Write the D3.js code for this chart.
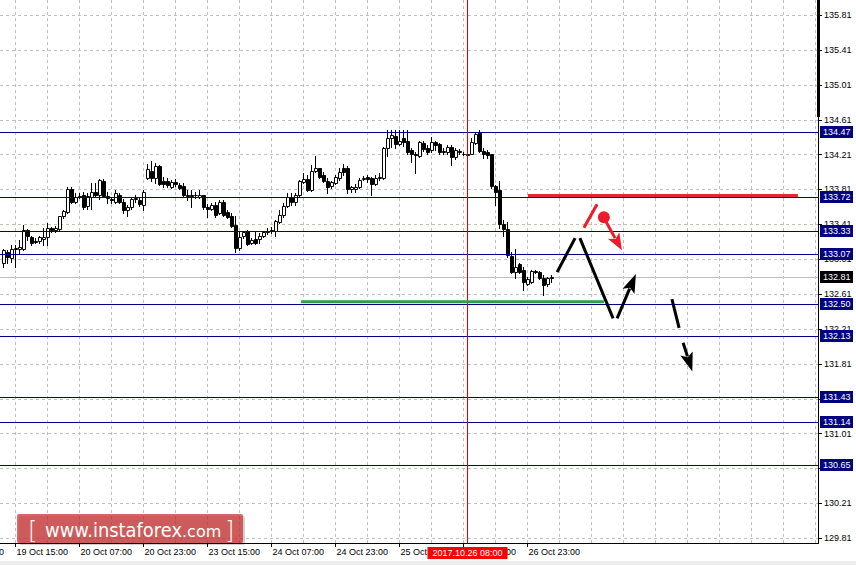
<!DOCTYPE html>
<html lang="en">
<head>
<meta charset="UTF-8">
<title>USD/JPY H1</title>
<script src="https://d3js.org/d3.v7.min.js"></script>
<style>
  body { margin: 0; background: #fff; overflow: hidden; }
  svg { display: block; font-family: "Liberation Sans", Arial, sans-serif; }
</style>
</head>
<body>
<script>
// H1 candles, first visible bar = 19 Oct 12:00 (bar 1), 4px per bar
const firstBar = 1;
const opens = [
  132.97,133.09,133.02,133.12,133.12,133.13,133.34,133.26,133.22,133.22,133.24,133.26,133.37,133.34,133.35,133.50,133.55,133.81,133.66,133.72,
  133.75,133.62,133.72,133.78,133.75,133.90,133.73,133.70,133.67,133.75,133.67,133.57,133.61,133.70,133.69,133.63,133.94,134.02,133.94,134.08,
  133.90,133.90,133.84,133.89,133.86,133.85,133.75,133.75,133.74,133.72,133.74,133.61,133.59,133.63,133.54,133.66,133.55,133.50,133.40,133.14,
  133.27,133.33,133.19,133.24,133.24,133.27,133.32,133.33,133.33,133.43,133.51,133.62,133.72,133.66,133.74,133.89,133.93,133.80,134.02,134.05,
  133.98,133.90,133.85,133.88,133.94,134.06,134.05,133.81,133.81,133.84,133.93,133.95,133.94,133.87,133.94,133.94,134.28,134.40,134.42,134.33,
  134.40,134.37,134.26,134.21,134.19,134.34,134.28,134.26,134.35,134.33,134.24,134.24,134.29,134.18,134.25,134.22,134.21,134.22,134.34,134.47,
  134.25,134.24,134.21,133.85,133.80,133.41,133.35,133.04,132.86,132.95,132.89,132.72,132.75,132.87,132.86,132.79,132.72,132.79
];
const highs = [
  133.12,133.11,133.17,133.17,133.23,133.40,133.35,133.28,133.25,133.28,133.37,133.42,133.38,133.39,133.50,133.57,133.84,133.84,133.77,133.77,
  133.78,133.77,133.88,133.88,133.93,133.93,133.78,133.71,133.80,133.77,133.70,133.63,133.71,133.74,133.72,133.80,134.10,134.13,134.11,134.09,
  133.95,133.94,133.92,133.93,133.88,133.88,133.80,133.80,133.78,133.80,133.75,133.64,133.65,133.66,133.69,133.69,133.57,133.54,133.50,133.32,
  133.33,133.34,133.25,133.33,133.31,133.33,133.37,133.38,133.46,133.57,133.65,133.77,133.77,133.77,133.92,134.00,133.97,134.09,134.19,134.06,
  134.01,133.94,133.90,133.97,134.05,134.10,134.08,133.85,133.87,133.94,133.96,133.97,133.95,133.97,134.00,134.29,134.49,134.49,134.49,134.49,
  134.49,134.49,134.28,134.24,134.37,134.37,134.32,134.41,134.37,134.34,134.28,134.32,134.32,134.28,134.27,134.24,134.22,134.40,134.47,134.49,
  134.28,134.26,134.22,133.86,133.90,133.46,133.43,133.09,133.12,132.96,132.92,132.80,132.89,132.88,132.87,132.83,132.80,132.83
];
const lows = [
  132.92,132.96,132.98,132.92,133.08,133.11,133.23,133.17,133.19,133.19,133.17,133.17,133.32,133.32,133.34,133.48,133.54,133.65,133.65,133.71,
  133.59,133.59,133.59,133.72,133.70,133.72,133.65,133.65,133.65,133.65,133.54,133.50,133.59,133.66,133.62,133.57,133.93,133.90,133.88,133.86,
  133.84,133.84,133.82,133.85,133.81,133.73,133.69,133.61,133.71,133.71,133.59,133.49,133.57,133.49,133.53,133.50,133.48,133.38,133.09,133.11,
  133.25,133.17,133.18,133.18,133.20,133.26,133.30,133.31,133.28,133.42,133.49,133.61,133.63,133.63,133.73,133.88,133.79,133.79,134.01,133.94,
  133.89,133.77,133.82,133.87,133.92,133.98,133.77,133.78,133.78,133.82,133.92,133.89,133.74,133.86,133.92,133.93,134.19,134.29,134.28,134.32,
  134.31,134.22,134.12,134.00,134.18,134.25,134.22,134.24,134.26,134.21,134.22,134.21,134.09,134.16,134.21,134.20,134.20,134.21,134.33,134.24,
  134.17,134.17,133.82,133.63,133.37,133.28,133.03,132.85,132.79,132.85,132.65,132.71,132.74,132.85,132.78,132.60,132.70,132.75
];
const closes = [
  133.11,133.03,133.12,133.14,133.15,133.34,133.27,133.20,133.21,133.26,133.26,133.37,133.34,133.37,133.50,133.56,133.81,133.66,133.72,133.73,
  133.61,133.73,133.78,133.74,133.92,133.73,133.71,133.69,133.77,133.66,133.57,133.61,133.70,133.71,133.64,133.78,134.04,133.94,134.08,133.87,
  133.87,133.86,133.89,133.87,133.82,133.74,133.73,133.73,133.74,133.75,133.61,133.59,133.63,133.51,133.67,133.51,133.49,133.39,133.14,133.26,
  133.32,133.18,133.23,133.20,133.27,133.32,133.33,133.34,133.45,133.51,133.62,133.72,133.66,133.75,133.90,133.93,133.80,134.02,134.05,133.95,
  133.90,133.84,133.89,133.95,134.01,134.01,133.81,133.84,133.84,133.92,133.94,133.93,133.87,133.94,133.95,134.28,134.40,134.43,134.33,134.37,
  134.35,134.24,134.22,134.20,134.35,134.27,134.24,134.35,134.32,134.24,134.25,134.29,134.18,134.26,134.24,134.21,134.20,134.35,134.45,134.25,
  134.21,134.20,133.85,133.78,133.41,133.35,133.06,132.86,132.92,132.86,132.75,132.78,132.87,132.86,132.79,132.71,132.79,132.81
];

const priceTicks = [135.81,135.41,135.01,134.61,134.21,133.81,133.41,133.01,132.61,132.21,131.81,131.41,131.01,130.61,130.21,129.81];
const levels = [134.47,133.72,133.33,133.07,132.50,132.13,131.43,131.14,130.65];
const timeTickBars = [-12,4,20,36,52,68,84,100,116,132];
const timeTickLabels = ["18 Oct 23:00","19 Oct 15:00","20 Oct 07:00","20 Oct 23:00","23 Oct 15:00",
                        "24 Oct 07:00","24 Oct 23:00","25 Oct 15:00","26 Oct 07:00","26 Oct 23:00"];
const cursorBar = 117, cursorLabel = "2017.10.26 08:00";

// drawn objects, in [bar, price]
const resistance = [[132.1, 133.74], [199.6, 133.74]];
const support = [[75.4, 132.52], [151.1, 132.52]];
const blackSegments = [
  [[139.4, 132.86], [143.9, 133.25]],
  [[145.1, 133.25], [153.4, 132.33]],
  [[168.1, 132.55], [169.9, 132.22]]
];
const blackArrows = [
  [[154.4, 132.33], [159.1, 132.84]],
  [[170.9, 132.05], [173.2, 131.72]]
];
const redSegment = [[146.1, 133.37], [149.4, 133.64]];
const redDot = [151.1, 133.49];
const redArrow = [[151.6, 133.44], [155.6, 133.11]];

const W = 856, H = 565, plotRight = 818, plotBottom = 543;

const x = d3.scaleLinear().domain([0, 204.5]).range([-0.5, 817.5]);
const y = d3.scaleLinear().domain([129.81, 135.81]).range([538, 15]);
const cx = n => Math.floor(x(n)) + 0.5;
const cy = v => Math.round(y(v)) + 0.5;

const svg = d3.select("body").append("svg").attr("width", W).attr("height", H);
svg.append("rect").attr("width", W).attr("height", H).attr("fill", "#fff");
svg.append("rect").attr("x", 0).attr("y", 561).attr("width", W).attr("height", 4).attr("fill", "#ececec");

svg.append("defs").append("clipPath").attr("id", "plotClip")
  .append("rect").attr("width", plotRight).attr("height", plotBottom);
const plot = svg.append("g").attr("clip-path", "url(#plotClip)");

// grid
const gridBars = d3.range(4, 205, 8);
plot.selectAll(".vgrid").data(gridBars).join("line")
  .attr("x1", d => cx(d)).attr("x2", d => cx(d)).attr("y1", 0).attr("y2", plotBottom)
  .attr("stroke", "#c0c0c0").attr("stroke-dasharray", "3,3");
plot.selectAll(".hgrid").data(priceTicks).join("line")
  .attr("x1", 0).attr("x2", plotRight).attr("y1", d => cy(d)).attr("y2", d => cy(d))
  .attr("stroke", "#c0c0c0").attr("stroke-dasharray", "3,3");

// last price line
const lastClose = closes[closes.length - 1];
plot.append("line").attr("x1", 0).attr("x2", plotRight)
  .attr("y1", cy(lastClose)).attr("y2", cy(lastClose)).attr("stroke", "#c0c0c0");

// candles
const candles = opens.map((o, i) => ({ bar: firstBar + i, o: o, h: highs[i], l: lows[i], c: closes[i] }));
plot.selectAll(".wick").data(candles).join("line")
  .attr("x1", d => cx(d.bar)).attr("x2", d => cx(d.bar))
  .attr("y1", d => cy(d.h) - 0.5).attr("y2", d => cy(d.l) + 0.5)
  .attr("stroke", "#000");
plot.selectAll(".body").data(candles).join("path")
  .attr("d", d => {
    const x0 = cx(d.bar) - 1, x1 = x0 + 3;
    const y0 = cy(Math.max(d.o, d.c)), y1 = cy(Math.min(d.o, d.c));
    return `M${x0},${y0}H${x1}V${y1}H${x0}Z`;
  })
  .attr("fill", d => d.c > d.o ? "#fff" : "#000")
  .attr("stroke", "#000");

// horizontal levels
plot.selectAll(".level").data(levels).join("line")
  .attr("x1", 0).attr("x2", plotRight).attr("y1", d => cy(d)).attr("y2", d => cy(d))
  .attr("stroke", "#000080");

// cursor line
plot.append("line").attr("x1", cx(cursorBar)).attr("x2", cx(cursorBar))
  .attr("y1", 0).attr("y2", plotBottom).attr("stroke", "#e00000");

// trend objects
const line = d3.line().x(d => x(d[0])).y(d => y(d[1]));
plot.append("path").attr("d", line(resistance)).attr("stroke", "#e3263b").attr("stroke-width", 3).attr("fill", "none");
plot.append("path").attr("d", line(support)).attr("stroke", "#2f9e44").attr("stroke-width", 3).attr("fill", "none");

blackSegments.forEach(s => {
  plot.append("path").attr("d", line(s)).attr("stroke", "#000").attr("stroke-width", 3).attr("fill", "none");
});

function arrow(seg, color, headLen, headW) {
  const [x0, y0] = [x(seg[0][0]), y(seg[0][1])];
  const [x1, y1] = [x(seg[1][0]), y(seg[1][1])];
  const len = Math.hypot(x1 - x0, y1 - y0), ux = (x1 - x0) / len, uy = (y1 - y0) / len;
  const bx = x1 - ux * headLen, by = y1 - uy * headLen;
  plot.append("line").attr("x1", x0).attr("y1", y0).attr("x2", bx + ux * 3).attr("y2", by + uy * 3)
    .attr("stroke", color).attr("stroke-width", 3);
  plot.append("path")
    .attr("d", `M${x1},${y1}L${bx - uy * headW / 2},${by + ux * headW / 2}L${bx + ux * 4},${by + uy * 4}L${bx + uy * headW / 2},${by - ux * headW / 2}Z`)
    .attr("fill", color);
}
blackArrows.forEach(a => arrow(a, "#000", 19, 13));

plot.append("path").attr("d", line(redSegment)).attr("stroke", "#ee1c2b").attr("stroke-width", 3).attr("fill", "none");
plot.append("circle").attr("cx", x(redDot[0])).attr("cy", y(redDot[1])).attr("r", 6).attr("fill", "#ee1c2b");
arrow(redArrow, "#ee1c2b", 17, 13);

// axes frame
svg.append("line").attr("x1", 818.5).attr("x2", 818.5).attr("y1", 0).attr("y2", plotBottom + 1).attr("stroke", "#000");
svg.append("rect").attr("x", 817).attr("y", 0).attr("width", 3).attr("height", 117).attr("fill", "#000");
svg.append("line").attr("x1", 0).attr("x2", 819).attr("y1", plotBottom + 0.5).attr("y2", plotBottom + 0.5).attr("stroke", "#000");

// price axis
const yAxis = svg.append("g");
yAxis.selectAll("line").data(priceTicks).join("line")
  .attr("x1", 819).attr("x2", 822).attr("y1", d => cy(d)).attr("y2", d => cy(d)).attr("stroke", "#000");
yAxis.selectAll("text").data(priceTicks).join("text")
  .attr("x", 824).attr("y", d => y(d)).attr("dy", "0.35em")
  .attr("font-size", 9).attr("fill", "#000").text(d => d.toFixed(2));

// level price boxes
const boxes = svg.append("g");
const boxData = levels.map(v => ({ v: v, bg: "#000080" })).concat([{ v: lastClose, bg: "#000" }]);
boxes.selectAll("rect").data(boxData).join("rect")
  .attr("x", 820).attr("y", d => Math.round(y(d.v)) - 6).attr("width", 33).attr("height", 12)
  .attr("fill", d => d.bg);
boxes.selectAll("text").data(boxData).join("text")
  .attr("x", 823).attr("y", d => Math.round(y(d.v))).attr("dy", "0.35em")
  .attr("font-size", 9).attr("fill", "#fff").text(d => d.v.toFixed(2));

// time axis
const xAxis = svg.append("g");
xAxis.selectAll("line").data(timeTickBars).join("line")
  .attr("x1", d => cx(d)).attr("x2", d => cx(d)).attr("y1", plotBottom).attr("y2", plotBottom + 4)
  .attr("stroke", "#000");
xAxis.selectAll("text").data(timeTickBars).join("text")
  .attr("x", d => cx(d) + 1).attr("y", 555).attr("font-size", 9).attr("fill", "#000")
  .text((d, i) => timeTickLabels[i]);

// cursor time box
svg.append("rect").attr("x", cx(cursorBar) - 40).attr("y", 547).attr("width", 80).attr("height", 12).attr("fill", "#ff0000");
svg.append("text").attr("x", cx(cursorBar)).attr("y", 553).attr("dy", "0.35em").attr("text-anchor", "middle")
  .attr("font-size", 9).attr("fill", "#fff").text(cursorLabel);

// watermark
const logo = svg.append("g");
logo.append("rect").attr("x", 19).attr("y", 516).attr("width", 226).attr("height", 29).attr("rx", 2)
  .attr("fill", "#000").attr("opacity", 0.18);
logo.append("rect").attr("x", 17).attr("y", 514).attr("width", 226).attr("height", 29).attr("rx", 2)
  .attr("fill", "#cc3333").attr("opacity", 0.75);
logo.append("text").attr("x", 28).attr("y", 539).attr("font-size", 24).attr("font-family", "DejaVu Sans")
  .attr("font-weight", 200).attr("fill", "#fff").text("[");
logo.append("text").attr("x", 45).attr("y", 537).attr("font-size", 20).attr("font-family", "DejaVu Sans")
  .attr("fill", "#fff").attr("textLength", 137).attr("lengthAdjust", "spacingAndGlyphs").text("www.instaforex");
logo.append("text").attr("x", 182).attr("y", 537).attr("font-size", 16).attr("font-family", "DejaVu Sans")
  .attr("fill", "#fff").text(".com");
logo.append("text").attr("x", 225).attr("y", 539).attr("font-size", 24).attr("font-family", "DejaVu Sans")
  .attr("font-weight", 200).attr("fill", "#fff").text("]");
</script>
</body>
</html>
